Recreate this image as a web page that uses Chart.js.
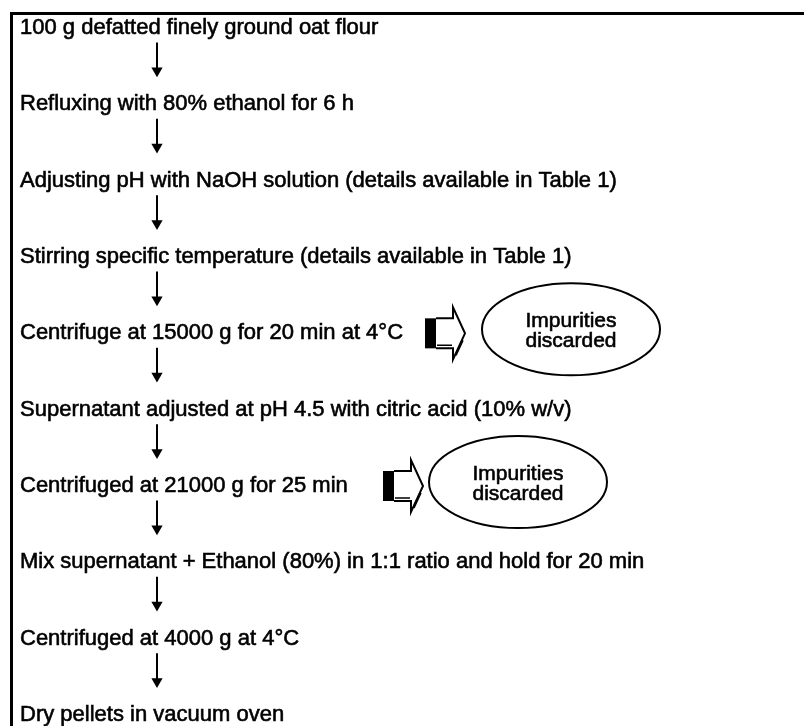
<!DOCTYPE html>
<html>
<head>
<meta charset="utf-8">
<script src="https://cdn.jsdelivr.net/npm/chart.js@4.4.1/dist/chart.umd.min.js"></script>
<style>
  html, body { margin: 0; padding: 0; background: #fff; }
  canvas { display: block; }
</style>
</head>
<body>
<canvas id="flujo" width="804" height="726"></canvas>
<script>
// pasos del proceso, de arriba a abajo
const steps = [
  "100 g defatted finely ground oat flour",
  "Refluxing with 80% ethanol for 6 h",
  "Adjusting pH with NaOH solution (details available in Table 1)",
  "Stirring specific temperature (details available in Table 1)",
  "Centrifuge at 15000 g for 20 min at 4\u00b0C",
  "Supernatant adjusted at pH 4.5 with citric acid (10% w/v)",
  "Centrifuged at 21000 g for 25 min",
  "Mix supernatant + Ethanol (80%) in 1:1 ratio and hold for 20 min",
  "Centrifuged at 4000 g at 4\u00b0C",
  "Dry pellets in vacuum oven"
];
// pasos que tienen salida lateral
const discardSteps = [4, 6];
const discardText = ["Impurities", "discarded"];

// maquetación (px en el eje x, fracción de fila en el eje y)
const FONT = '"Liberation Sans", Arial, Helvetica, sans-serif';
const textX = 20;
const arrowX = 157;
const arrowFrom = 0.19, arrowTo = 0.56;
const blockX = { 4: 425, 6: 383 };
const ovalX = { 4: 571, 6: 518 };

// flechas verticales entre pasos
const arrowSets = [];
for (let i = 0; i < steps.length - 1; i++) {
  arrowSets.push({
    data: [{ x: arrowX, y: i + arrowFrom }, { x: arrowX, y: i + arrowTo }],
    showLine: true,
    borderColor: "#000",
    backgroundColor: "#000",
    borderWidth: 2,
    pointStyle: "triangle",
    rotation: 180,
    pointRadius: [0, 6.5],
    pointBorderWidth: 0
  });
}

function blockArrow(ctx, x0, yc) {
  ctx.save();
  ctx.fillStyle = "#000";
  ctx.fillRect(x0, yc - 15, 11, 30);
  ctx.strokeStyle = "#000";
  ctx.lineWidth = 2;
  ctx.lineJoin = "miter";
  ctx.beginPath();
  ctx.moveTo(x0 + 11, yc - 15);
  ctx.lineTo(x0 + 28, yc - 15);
  ctx.lineTo(x0 + 28, yc - 26);
  ctx.lineTo(x0 + 40, yc);
  ctx.lineTo(x0 + 28, yc + 26);
  ctx.lineTo(x0 + 28, yc + 15);
  ctx.lineTo(x0 + 11, yc + 15);
  ctx.stroke();
  // sombra del borde inferior
  ctx.lineWidth = 1.5;
  ctx.beginPath();
  ctx.moveTo(x0 + 31, yc + 22);
  ctx.lineTo(x0 + 38, yc + 7);
  ctx.moveTo(x0 + 12, yc + 12);
  ctx.lineTo(x0 + 27, yc + 12);
  ctx.stroke();
  ctx.restore();
}

function texto(ctx, s, x, y) {
  ctx.strokeText(s, x, y);
  ctx.fillText(s, x, y);
}

const dibujo = {
  id: "dibujo",
  afterDatasetsDraw(chart) {
    const ctx = chart.ctx;
    const y = chart.scales.y;
    const x = chart.scales.x;
    ctx.save();
    // marco
    ctx.strokeStyle = "#000";
    ctx.lineWidth = 3;
    ctx.beginPath();
    ctx.moveTo(11.5, 726);
    ctx.lineTo(11.5, 13.5);
    ctx.lineTo(804, 13.5);
    ctx.stroke();
    // textos de los pasos
    ctx.fillStyle = "#000";
    ctx.lineWidth = 0.6;
    ctx.font = "22px " + FONT;
    ctx.textAlign = "left";
    ctx.textBaseline = "middle";
    steps.forEach((s, i) => texto(ctx, s, x.getPixelForValue(textX), y.getPixelForValue(i)));
    // salidas laterales
    discardSteps.forEach((i) => {
      const yc = y.getPixelForValue(i);
      blockArrow(ctx, x.getPixelForValue(blockX[i]), yc);
      const cx = x.getPixelForValue(ovalX[i]);
      ctx.lineWidth = 2;
      ctx.beginPath();
      ctx.ellipse(cx, yc - 4, 89, 46, 0, 0, Math.PI * 2);
      ctx.stroke();
      ctx.lineWidth = 0.6;
      ctx.font = "21px " + FONT;
      ctx.textAlign = "center";
      texto(ctx, discardText[0], cx, yc - 12);
      texto(ctx, discardText[1], cx, yc + 8);
    });
    ctx.restore();
  }
};

new Chart(document.getElementById("flujo"), {
  type: "scatter",
  data: { datasets: arrowSets },
  options: {
    responsive: false,
    animation: false,
    events: [],
    layout: { autoPadding: false, padding: { top: 28, bottom: 11, left: 0, right: 0 } },
    scales: {
      x: { type: "linear", min: 0, max: 804, display: false },
      y: { type: "linear", min: 0, max: steps.length - 1, reverse: true, display: false }
    },
    plugins: { legend: { display: false }, tooltip: { enabled: false } }
  },
  plugins: [dibujo]
});
</script>
</body>
</html>
